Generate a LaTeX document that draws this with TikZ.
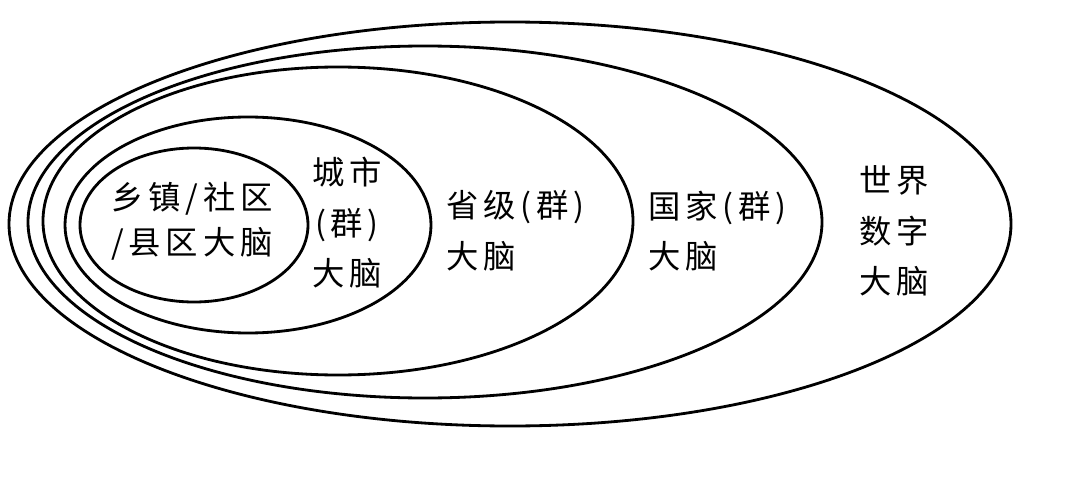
\documentclass[tikz,border=0pt]{standalone}
\usepackage{fontspec}
\newfontfamily\cjk[LetterSpace=15]{Noto Sans CJK SC}
\tikzset{
  ring/.style={line width=2pt,black},
  level/.style={font=\cjk\fontsize{23}{36}\selectfont,inner sep=0pt,text=black}
}

\begin{document}
\begin{tikzpicture}[x=0.025cm,y=-0.025cm]
  \useasboundingbox (0,0) rectangle (1080,480);
  % nested rings, outermost first
  \draw[ring] (510,224) ellipse [x radius=501,y radius=202];
  \draw[ring] (425,222) ellipse [x radius=397,y radius=176];
  \draw[ring] (338,221) ellipse [x radius=295,y radius=154];
  \draw[ring] (248,225) ellipse [x radius=183,y radius=108];
  \draw[ring] (194,225) ellipse [x radius=114,y radius=77];
  % labels
  \node[level,align=center] (town) at (192,221) {乡镇/社区\\[-4pt]/县区大脑};
  \node[level,align=center] (city) at (347,223) {城市\\(群)\\大脑};
  \node[level,align=left,anchor=west] (prov) at (446,231) {省级(群)\\大脑};
  \node[level,align=left,anchor=west] (nation) at (648,231) {国家(群)\\大脑};
  \node[level,align=center] (world) at (894,231) {世界\\数字\\大脑};
\end{tikzpicture}
\end{document}
